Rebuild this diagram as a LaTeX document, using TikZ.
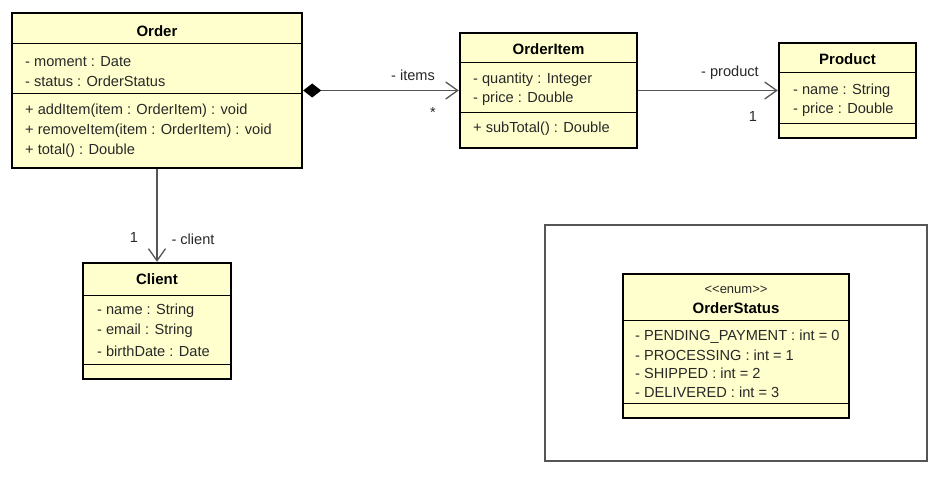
\documentclass[tikz,border=0pt]{standalone}
\usepackage{fontspec}
\setmainfont{Liberation Sans}
\usetikzlibrary{arrows.meta}
\definecolor{amarillo}{RGB}{255,255,206}
\definecolor{gris}{RGB}{85,85,85}
\definecolor{texto}{RGB}{40,40,40}
\tikzset{
  clase/.style={draw=black, line width=2.4pt, fill=amarillo, inner sep=0pt},
  sep/.style={line width=1pt},
  attr/.style={anchor=west, inner sep=0pt, text=texto, font=\fontsize{14.6}{16}\selectfont},
  titulo/.style={inner sep=0pt, font=\fontsize{15}{17}\selectfont\bfseries},
  rol/.style={inner sep=0pt, text=texto, font=\fontsize{14.6}{16}\selectfont},
  asoc/.style={draw=gris, line width=1.3pt, -{Straight Barb[length=12pt,width=17pt,line width=1.3pt]}},
}
\begin{document}
\begin{tikzpicture}[x=1pt,y=-1pt]
    \useasboundingbox (0,0) rectangle (939,478);
    % Clase Order
    \node[clase, minimum width=290pt, minimum height=155pt] (order) at (157,90.5) {};
    \draw[sep] (order.west |- 0,44) -- (order.east |- 0,44);
    \draw[sep] (order.west |- 0,94) -- (order.east |- 0,94);
    \node[titulo] (order-t) at (157,31) {Order};
    \node[attr] (order-a1) at (25,62) {- moment : Date};
    \node[attr] (order-a2) at (25,81) {- status : OrderStatus};
    \node[attr] (order-m1) at (25,111) {+ addItem(item : OrderItem) : void};
    \node[attr] (order-m2) at (25,131) {+ removeItem(item : OrderItem) : void};
    \node[attr] (order-m3) at (25,151) {+ total() : Double};
    % Clase OrderItem
    \node[clase, minimum width=177pt, minimum height=115pt] (item) at (548.5,90.5) {};
    \draw[sep] (item.west |- 0,63) -- (item.east |- 0,63);
    \draw[sep] (item.west |- 0,113) -- (item.east |- 0,113);
    \node[titulo] (item-t) at (548.5,49) {OrderItem};
    \node[attr] (item-a1) at (473,80) {- quantity : Integer};
    \node[attr] (item-a2) at (473,99) {- price : Double};
    \node[attr] (item-m1) at (473,129) {+ subTotal() : Double};
    % Clase Product
    \node[clase, minimum width=137pt, minimum height=95pt] (product) at (847.5,90.5) {};
    \draw[sep] (product.west |- 0,73) -- (product.east |- 0,73);
    \draw[sep] (product.west |- 0,124) -- (product.east |- 0,124);
    \node[titulo] (product-t) at (847.5,59) {Product};
    \node[attr] (product-a1) at (793,91) {- name : String};
    \node[attr] (product-a2) at (793,110) {- price : Double};
    % Clase Client
    \node[clase, minimum width=148pt, minimum height=116pt] (client) at (157,321) {};
    \draw[sep] (client.west |- 0,295) -- (client.east |- 0,295);
    \draw[sep] (client.west |- 0,364) -- (client.east |- 0,364);
    \node[titulo] (client-t) at (157,279) {Client};
    \node[attr] (client-a1) at (97,311) {- name : String};
    \node[attr] (client-a2) at (97,331) {- email : String};
    \node[attr] (client-a3) at (97,351) {- birthDate : Date};
    % Marco del enum
    \node[draw=gris, line width=1.2pt, minimum width=382pt, minimum height=236pt, inner sep=0pt] (marco) at (736,343) {};
    % Enum OrderStatus
    \node[clase, minimum width=226pt, minimum height=144pt] (status) at (736,346) {};
    \draw[sep] (status.west |- 0,320) -- (status.east |- 0,320);
    \draw[sep] (status.west |- 0,403) -- (status.east |- 0,403);
    \node[inner sep=0pt, text=texto, font=\fontsize{13}{15}\selectfont] (status-s) at (736,290) {<{}<enum>{}>};
    \node[titulo] (status-t) at (736,308) {OrderStatus};
    \node[attr] (status-a1) at (635,337) {- PENDING\_PAYMENT : int = 0};
    \node[attr] (status-a2) at (635,355) {- PROCESSING : int = 1};
    \node[attr] (status-a3) at (635,373) {- SHIPPED : int = 2};
    \node[attr] (status-a4) at (635,392) {- DELIVERED : int = 3};
    % Asociaciones
    \draw[asoc, {Diamond[length=18pt,width=14pt,black,fill=black,line width=0pt]}-{Straight Barb[length=12pt,width=17pt,line width=1.3pt]}] (order) -- (item);
    \draw[asoc] (item) -- (product);
    \draw[asoc] (order) -- (client);
    % Roles y multiplicidades
    \node[rol] (r-items) at (413,75) {- items};
    \node[rol] (m-items) at (433,112) {*};
    \node[rol] (r-product) at (730,73) {- product};
    \node[rol] (m-product) at (753,116) {1};
    \node[rol] (m-client) at (134,237) {1};
    \node[rol] (r-client) at (193,239) {- client};
\end{tikzpicture}
\end{document}
